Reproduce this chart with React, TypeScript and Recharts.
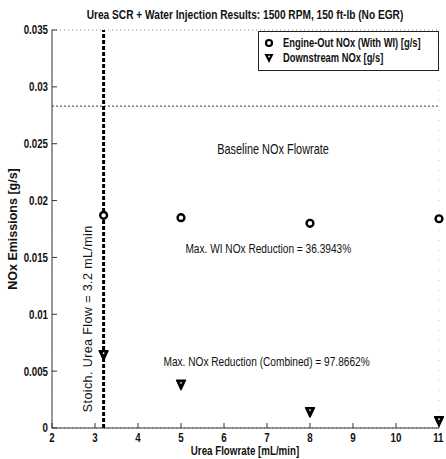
import {
  ScatterChart,
  Scatter,
  XAxis,
  YAxis,
  CartesianGrid,
  ReferenceLine,
  ReferenceDot,
} from "recharts";

const FONT = "'Liberation Sans', Arial, Helvetica, sans-serif";
const SQ = 0.78; // the source figure is squeezed horizontally

// urea flow [mL/min] and NOx [g/s]
const ureaFlow = [3.2, 5, 8, 11];
const engineOutNox = [0.0187, 0.0185, 0.018, 0.0184];
const downstreamNox = [0.0064, 0.0038, 0.0014, 0.0006];
const baselineNox = 0.0283;
const stoichFlow = 3.2;

const xTicks = [2, 3, 4, 5, 6, 7, 8, 9, 10, 11];
const yTicks = [0, 0.005, 0.01, 0.015, 0.02, 0.025, 0.03, 0.035];

const engineData = ureaFlow.map((x, i) => ({ x, y: engineOutNox[i] }));
const downData = ureaFlow.map((x, i) => ({ x, y: downstreamNox[i] }));

function CircleMark(p: any) {
  return <circle cx={p.cx} cy={p.cy} r={3.4} fill="#fff" stroke="#000" strokeWidth={2.4} />;
}

function TriMark(p: any) {
  const { cx, cy } = p;
  return (
    <g>
      <polygon
        points={`${cx - 4.5},${cy - 4.5} ${cx + 4.5},${cy - 4.5} ${cx},${cy + 5}`}
        fill="#000"
        stroke="#000"
        strokeWidth={1.4}
        strokeLinejoin="round"
      />
      <circle cx={cx} cy={cy - 2} r={0.9} fill="#fff" />
    </g>
  );
}

function SqText({ x, y, children, size = 12.5, bold = false, anchor = "middle", base = "central" }: any) {
  return (
    <text
      transform={`translate(${x} ${y}) scale(${SQ} 1)`}
      x={0}
      y={0}
      textAnchor={anchor}
      dominantBaseline={base}
      fontFamily={FONT}
      fontSize={size}
      fontWeight={bold ? "bold" : "normal"}
      fill="#111"
    >
      {children}
    </text>
  );
}

function XTick(p: any) {
  return (
    <SqText x={p.x} y={p.y} size={12.5} bold base="hanging">
      {p.payload.value}
    </SqText>
  );
}

function YTick(p: any) {
  return (
    <SqText x={p.x} y={p.y} size={12.5} bold anchor="end">
      {String(+Number(p.payload.value).toFixed(3))}
    </SqText>
  );
}

function textLabel(value: string, size = 12.5, angle = 0) {
  return ({ viewBox }: any) => {
    const cx = viewBox.x + (viewBox.width || 0) / 2;
    const cy = viewBox.y + (viewBox.height || 0) / 2;
    if (angle) {
      return (
        <text
          x={cx}
          y={cy}
          textAnchor="middle"
          dominantBaseline="central"
          fontFamily={FONT}
          fontSize={size}
          letterSpacing={0.4}
          fill="#111"
          transform={`rotate(${angle} ${cx} ${cy})`}
        >
          {value}
        </text>
      );
    }
    return (
      <SqText x={cx} y={cy} size={size}>
        {value}
      </SqText>
    );
  };
}

function LegendBox() {
  return (
    <svg
      width={181}
      height={40}
      style={{ position: "absolute", left: 258, top: 31 }}
    >
      <rect x={0.5} y={0.5} width={180} height={39} fill="#fff" stroke="#222" />
      <circle cx={11} cy={12} r={3} fill="#fff" stroke="#000" strokeWidth={2.2} />
      <SqText x={25} y={12} size={12} bold anchor="start">
        Engine-Out NOx (With WI) [g/s]
      </SqText>
      <polygon points="6.5,23 15.5,23 11,32" fill="#000" />
      <circle cx={11} cy={25.5} r={0.9} fill="#fff" />
      <SqText x={25} y={27} size={12} bold anchor="start">
        Downstream NOx [g/s]
      </SqText>
    </svg>
  );
}

const htmlText = {
  position: "absolute" as const,
  fontFamily: FONT,
  fontWeight: "bold" as const,
  color: "#111",
  whiteSpace: "nowrap" as const,
};

export default function App() {
  return (
    <div style={{ position: "absolute", left: 0, top: 0, width: 446, height: 459, background: "#fff", overflow: "hidden" }}>
      <ScatterChart width={446} height={459} margin={{ top: 30, right: 7, bottom: 0, left: 0 }}>
        <CartesianGrid horizontal vertical={false} stroke="#888" strokeDasharray="1 3" />
        <CartesianGrid horizontal={false} vertical stroke="#ccc" strokeDasharray="1 9" />
        <XAxis
          xAxisId="b"
          type="number"
          dataKey="x"
          domain={[2, 11]}
          ticks={xTicks}
          height={31}
          tickSize={-5}
          tickMargin={10}
          axisLine={{ stroke: "#333" }}
          tickLine={{ stroke: "#333" }}
          tick={<XTick />}
        />
        <XAxis
          xAxisId="t"
          orientation="top"
          type="number"
          dataKey="x"
          domain={[2, 11]}
          ticks={xTicks}
          height={0}
          tickSize={-5}
          tick={false}
          axisLine={{ stroke: "#333" }}
          tickLine={{ stroke: "#333" }}
        />
        <YAxis
          yAxisId="l"
          type="number"
          dataKey="y"
          domain={[0, 0.035]}
          ticks={yTicks}
          width={52}
          tickSize={-5}
          tickMargin={9}
          axisLine={{ stroke: "#333" }}
          tickLine={{ stroke: "#333" }}
          tick={<YTick />}
        />
        <YAxis
          yAxisId="r"
          orientation="right"
          type="number"
          dataKey="y"
          domain={[0, 0.035]}
          ticks={yTicks}
          width={0}
          tickSize={-5}
          tick={false}
          axisLine={{ stroke: "#333" }}
          tickLine={{ stroke: "#333" }}
        />
        <ReferenceLine
          xAxisId="b"
          yAxisId="l"
          y={baselineNox}
          stroke="#666"
          strokeDasharray="2 2"
          strokeWidth={1.3}
        />
        <ReferenceLine
          xAxisId="b"
          yAxisId="l"
          x={stoichFlow}
          stroke="#000"
          strokeWidth={3}
          strokeDasharray="4 2"
        />
        <ReferenceDot xAxisId="b" yAxisId="l" x={7.14} y={0.0245} r={0} stroke="none" fill="none"
          label={{ content: textLabel("Baseline NOx Flowrate", 14) }} />
        <ReferenceDot xAxisId="b" yAxisId="l" x={7.03} y={0.0158} r={0} stroke="none" fill="none"
          label={{ content: textLabel("Max. WI NOx Reduction = 36.3943%", 13) }} />
        <ReferenceDot xAxisId="b" yAxisId="l" x={6.99} y={0.0059} r={0} stroke="none" fill="none"
          label={{ content: textLabel("Max. NOx Reduction (Combined) = 97.8662%", 13) }} />
        <ReferenceDot xAxisId="b" yAxisId="l" x={2.84} y={0.0096} r={0} stroke="none" fill="none"
          label={{ content: textLabel("Stoich. Urea Flow = 3.2 mL/min", 12.5, -90) }} />
        <Scatter
          xAxisId="b"
          yAxisId="l"
          name="Engine-Out NOx (With WI) [g/s]"
          data={engineData}
          shape={CircleMark}
          isAnimationActive={false}
        />
        <Scatter
          xAxisId="b"
          yAxisId="l"
          name="Downstream NOx [g/s]"
          data={downData}
          shape={TriMark}
          isAnimationActive={false}
        />
      </ScatterChart>
      <LegendBox />
      <div
        style={{
          ...htmlText,
          left: 245,
          top: 14,
          fontSize: 13,
          transform: `translate(-50%, -50%) scaleX(${SQ})`,
        }}
      >
        Urea SCR + Water Injection Results: 1500 RPM, 150 ft-lb (No EGR)
      </div>
      <div
        style={{
          ...htmlText,
          left: 245,
          top: 451,
          fontSize: 12.5,
          transform: `translate(-50%, -50%) scaleX(${SQ})`,
        }}
      >
        Urea Flowrate [mL/min]
      </div>
      <div
        style={{
          ...htmlText,
          left: 13,
          top: 229,
          fontSize: 12.5,
          transform: "translate(-50%, -50%) rotate(-90deg)",
        }}
      >
        NOx Emissions [g/s]
      </div>
    </div>
  );
}
